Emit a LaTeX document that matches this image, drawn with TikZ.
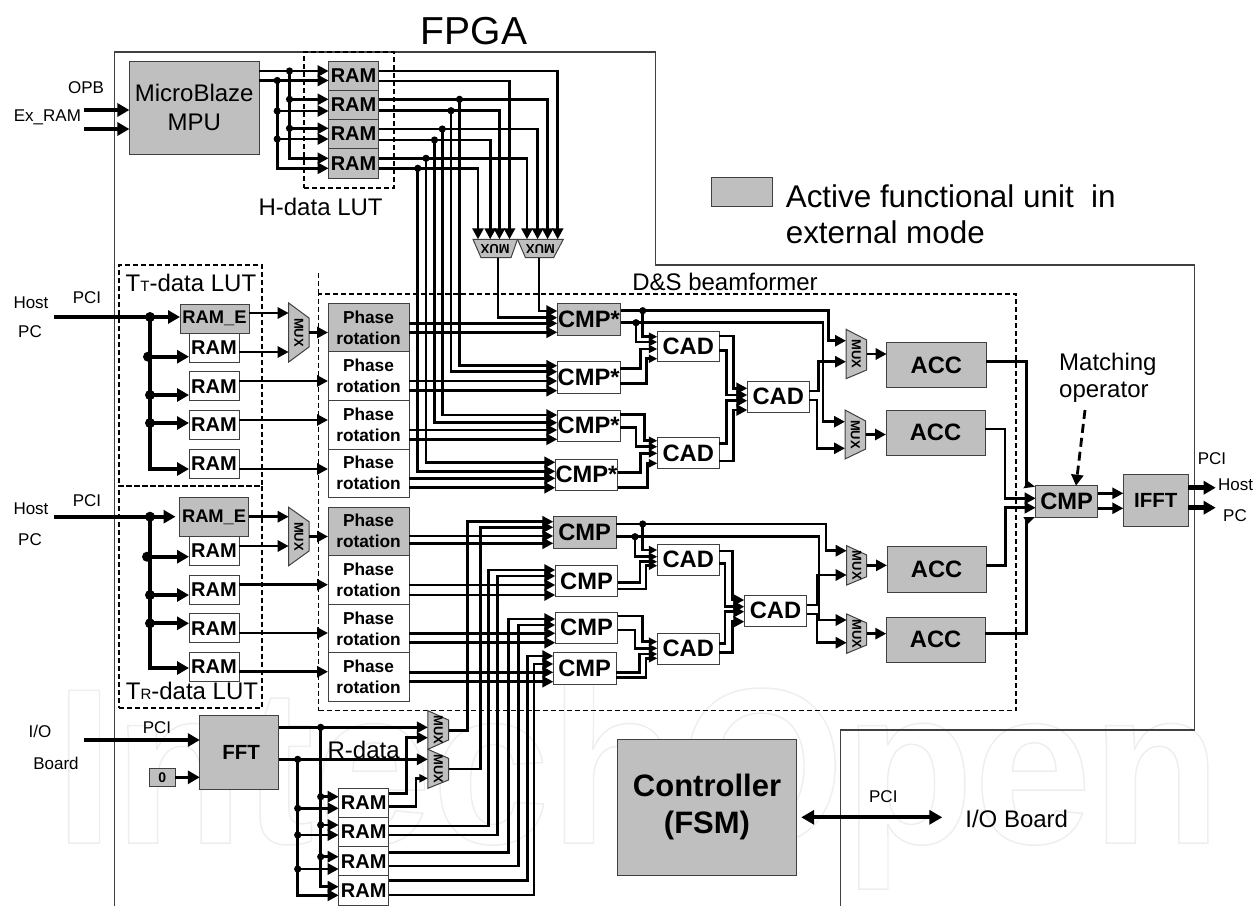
\documentclass[tikz,border=0pt]{standalone}
\usepackage{fontspec}
\setmainfont{Liberation Sans}
\usetikzlibrary{arrows.meta}
\definecolor{boxgray}{HTML}{BFBFBF}
\definecolor{boxline}{HTML}{404040}
\definecolor{wmark}{HTML}{EEEEEE}
\newcommand{\fs}[2]{\fontsize{#1}{#2}\selectfont}
\newcommand{\bx}[7][]{%
  \pgfmathsetmacro\bxw{#5-#3}\pgfmathsetmacro\bxh{#6-#4}%
  \pgfmathsetmacro\bxx{(#3+#5)/2}\pgfmathsetmacro\bxy{(#4+#6)/2}%
  \node[boxbase,#1,minimum width=\bxw pt,minimum height=\bxh pt] (#2) at (\bxx,\bxy) {#7};}
% vertical mux: name, x1, x2, left top, left bottom, right top, right bottom
\newcommand{\vmux}[7]{%
  \pgfmathsetmacro\mxx{(#2+#3)/2}\pgfmathsetmacro\mxy{(#4+#5)/2}%
  \draw[muxs] (#2,#4) -- (#3,#6) -- (#3,#7) -- (#2,#5) -- cycle;
  \node[muxt,rotate=-90] (#1) at (\mxx,\mxy) {MUX};
  \coordinate (#1-w) at (#2,\mxy);
  \coordinate (#1-e) at (#3,\mxy);}
% horizontal mux: name, top x1, top x2, bottom x1, bottom x2, y top, y bottom
\newcommand{\hmux}[7]{%
  \pgfmathsetmacro\mxx{(#2+#3)/2}\pgfmathsetmacro\mxy{(#6+#7)/2}%
  \draw[muxs] (#2,#6) -- (#3,#6) -- (#5,#7) -- (#4,#7) -- cycle;
  \node[muxt,rotate=180] (#1) at (\mxx,\mxy) {MUX};
  \coordinate (#1-n) at (\mxx,#6);
  \coordinate (#1-s) at (\mxx,#7);}
\newcommand{\dt}[1]{\fill #1 circle (3.6pt);}
\newcommand{\dtb}[1]{\fill #1 circle (5pt);}
\tikzset{
  boxbase/.style={draw=boxline,line width=1pt,inner sep=0pt,outer sep=0pt,align=center},
  gbox/.style={fill=boxgray},
  wbox/.style={fill=white},
  dbox/.style={draw=black,dash pattern=on 5pt off 3pt,line width=1.8pt,fill=none},
  muxs/.style={draw=boxline,line width=1pt,fill=boxgray},
  muxt/.style={font=\bfseries\fs{13}{13},inner sep=0pt},
  ln/.style={line width=2.8pt},
  ar/.style={ln,-{Triangle[length=11pt,width=11pt]}},
  ars/.style={ln,-{Triangle[length=8.5pt,width=8pt]}},
  thk/.style={line width=4.2pt},
  art/.style={thk,-{Triangle[length=12pt,width=13pt]}},
  lab/.style={inner sep=0pt,font=\fs{17}{17}},
  big/.style={inner sep=0pt,font=\fs{24}{29},align=center},
  ramt/.style={font=\bfseries\fs{20}{20}},
  cmpt/.style={font=\bfseries\fs{23.7}{24}},
  phat/.style={font=\bfseries\fs{17.3}{21}},
  outl/.style={draw=boxline,line width=1.2pt},
}
\begin{document}
\begin{tikzpicture}[x=1pt,y=-1pt]
\useasboundingbox (0,0) rectangle (1260,906);
% watermark
\node[anchor=base west,inner sep=0pt,text=wmark,xscale=.955,font=\bfseries\fs{222}{222}] (wm) at (54.6,843)
  {\special{pdf:code 1 Tr 1.5 w}IntechOpen\special{pdf:code 0 Tr}};
% FPGA outline
\coordinate (fa) at (114.5,906); \coordinate (fb) at (114.5,52); \coordinate (fc) at (655.5,52);
\coordinate (fd) at (655.5,265); \coordinate (fe) at (1194.5,265); \coordinate (ff) at (1194.5,730);
\coordinate (fg) at (840.7,730); \coordinate (fh) at (840.7,906);
\draw[outl] (fa) -- (fb) -- (fc) -- (fd) -- (fe) -- (ff) -- (fg) -- (fh);
\node[inner sep=0pt,font=\fs{39}{39}] (fpga) at (474,31) {FPGA};
% dashed groups
\bx[dbox]{hlut}{304}{52}{394}{187.7}{}
\bx[dbox]{tlut}{119}{265}{262}{486}{}
\bx[dbox]{rlut}{119}{486}{262}{708}{}
\bx[dbox]{ds}{318.5}{294}{1016}{710.5}{}
\coordinate (dsstub) at (318.5,273);
\draw[dbox] (dsstub) -- (ds.north west);
\node[big] (hlab) at (320.6,207) {H-data LUT};
\node[big] (tlab) at (191,283) {T{\fs{15}{15}T}-data LUT};
\node[big] (rlab) at (192,690.5) {T{\fs{15}{15}R}-data LUT};
\node[big] (dlab) at (725,281.5) {D\&S beamformer};
\node[big] (rdlab) at (363.6,750) {R-data};
% legend
\bx[gbox]{leg}{711.7}{177.3}{772.2}{206.7}{}
\node[anchor=west,inner sep=0pt,font=\fs{31.4}{31.4}] (lega) at (785.6,196) {Active functional unit\ \ in};
\node[anchor=west,inner sep=0pt,font=\fs{31.4}{31.4}] (legb) at (785.6,232) {external mode};
% MicroBlaze
\bx[gbox,font=\fs{24}{29}]{mb}{129.4}{61}{259}{154}{MicroBlaze\\MPU}
\node[lab] (opb) at (86,88) {OPB};
\node[lab] (exram) at (47.4,117) {Ex\_RAM};
\coordinate (exa) at (84,110); \coordinate (exb) at (84,129);
\draw[art] (exa) -- (mb.west|-exa);
\draw[art] (exb) -- (mb.west|-exb);
% H RAM
\bx[gbox,ramt]{hr1}{328.6}{61}{378.5}{90}{RAM}
\bx[gbox,ramt]{hr2}{328.6}{90}{378.5}{119.3}{RAM}
\bx[gbox,ramt]{hr3}{328.6}{119.3}{378.5}{148.7}{RAM}
\bx[gbox,ramt]{hr4}{328.6}{148.7}{378.5}{178.3}{RAM}
\hmux{hm1}{473}{517.5}{481}{511}{239.3}{257.7}
\hmux{hm2}{517.5}{563.3}{525.5}{553.6}{239.3}{257.7}
\coordinate (ha) at (289.5,71); \coordinate (hb) at (277.2,80.5);
\draw[ar] (mb.east|-ha) -- (hr1.west|-ha);
\draw[ar] (mb.east|-hb) -- (hr1.west|-hb);
\draw[ar] (ha) |- (hr2.west|-0,99.3);
\draw[ar] (ha) |- (hr3.west|-0,128.3);
\draw[ar] (ha) |- (hr4.west|-0,158.3);
\draw[ar] (hb) |- (hr2.west|-0,111);
\draw[ar] (hb) |- (hr3.west|-0,139);
\draw[ar] (hb) |- (hr4.west|-0,168.3);
\dt{(ha)} \dt{(hb)} \dt{(ha|-0,99.3)} \dt{(ha|-0,128.3)} \dt{(hb|-0,111)} \dt{(hb|-0,139)}
\draw[ar] (hr1.east|-0,71) -| (557.7,0|-hm2-n);
\draw[ar] (hr1.east|-0,81) -| (509.5,0|-hm1-n);
\draw[ar] (hr2.east|-0,99.3) -| (547.6,0|-hm2-n);
\draw[ar] (hr2.east|-0,110.7) -| (499.4,0|-hm1-n);
\draw[ar] (hr3.east|-0,129) -| (537.6,0|-hm2-n);
\draw[ar] (hr3.east|-0,140) -| (490.2,0|-hm1-n);
\draw[ar] (hr4.east|-0,158.3) -| (527,0|-hm2-n);
\draw[ar] (hr4.east|-0,168.3) -| (478,0|-hm1-n);
% T_T LUT
\bx[gbox,font=\bfseries\fs{18.3}{18.3}]{tre}{180}{304}{249}{333}{RAM\_E}
\bx[wbox,ramt]{tr1}{189}{333}{239}{362}{RAM}
\bx[wbox,ramt]{tr2}{189}{371.7}{239}{400.7}{RAM}
\bx[wbox,ramt]{tr3}{189}{410.7}{239}{439.5}{RAM}
\bx[wbox,ramt]{tr4}{189}{449.5}{239}{478}{RAM}
\vmux{tm}{288.7}{309}{303}{362}{318}{347}
\bx[gbox,phat]{pu1}{328}{303.5}{409}{351.7}{Phase\\rotation}
\bx[wbox,phat]{pu2}{328}{351.7}{409}{400}{Phase\\rotation}
\bx[wbox,phat]{pu3}{328}{400}{409}{449}{Phase\\rotation}
\bx[wbox,phat]{pu4}{328}{449}{409}{497}{Phase\\rotation}
\node[lab] (h1) at (31,303) {Host};
\node[lab] (p1) at (30,332) {PC};
\node[lab] (c1) at (87,298) {PCI};
\coordinate (thost) at (54,317); \coordinate (tbus) at (150,317);
\draw[art] (thost) -- (tre.west|-thost);
\draw[art] (tbus) |- (tr1.west|-0,356.7);
\draw[art] (tbus) |- (tr2.west|-0,395);
\draw[art] (tbus) |- (tr3.west|-0,423);
\draw[art] (tbus) |- (tr4.west|-0,469);
\dtb{(tbus)} \dtb{(148,356.7)} \dtb{(150,395)} \dtb{(150,423)}
\draw[ar] (tre.east|-0,313) -- (tm-w|-0,313);
\draw[ar] (tr1.east|-0,352) -- (tm-w|-0,352);
\draw[ar] (tm-e) -- (pu1.west|-tm-e);
\draw[ar] (tr2.east|-0,381) -- (pu2.west|-0,381);
\draw[ar] (tr3.east|-0,420) -- (pu3.west|-0,420);
\draw[ar] (tr4.east|-0,469) -- (pu4.west|-0,469);
% T_R LUT
\bx[gbox,font=\bfseries\fs{18.3}{18.3}]{lre}{179.5}{497.3}{248.7}{536.5}{RAM\_E}
\bx[wbox,ramt]{lr1}{189}{536.5}{239}{565.3}{RAM}
\bx[wbox,ramt]{lr2}{189}{575}{239}{604}{RAM}
\bx[wbox,ramt]{lr3}{189}{613.7}{239}{642.7}{RAM}
\bx[wbox,ramt]{lr4}{189}{652.7}{239}{681}{RAM}
\vmux{lm}{288.7}{309}{507.3}{565.7}{521.7}{551}
\bx[gbox,phat]{pl1}{328}{507.3}{409}{555.3}{Phase\\rotation}
\bx[wbox,phat]{pl2}{328}{555.3}{409}{604}{Phase\\rotation}
\bx[wbox,phat]{pl3}{328}{604}{409}{652.7}{Phase\\rotation}
\bx[wbox,phat]{pl4}{328}{652.7}{409}{701}{Phase\\rotation}
\node[lab] (h2) at (31,509) {Host};
\node[lab] (p2) at (30,540) {PC};
\node[lab] (c2) at (87,501) {PCI};
\coordinate (lhost) at (54,516.7); \coordinate (lbus) at (150,516.7);
\draw[art,shorten >=4pt] (lhost) -- (lre.west|-lhost);
\draw[art] (lbus) |- (lr1.west|-0,556.7);
\draw[art] (lbus) |- (lr2.west|-0,595);
\draw[art] (lbus) |- (lr3.west|-0,623.3);
\draw[art] (lbus) |- (lr4.west|-0,668);
\dtb{(lbus)} \dtb{(147,556.7)} \dtb{(150,595)} \dtb{(150,623.3)}
\draw[ar] (lre.east|-0,516.7) -- (lm-w|-0,516.7);
\draw[ar] (lr1.east|-0,546) -- (lm-w|-0,546);
\draw[ar] (lm-e) -- (pl1.west|-lm-e);
\draw[ar] (lr2.east|-0,584.7) -- (pl2.west|-0,584.7);
\draw[ar] (lr3.east|-0,633) -- (pl3.west|-0,633);
\draw[ar] (lr4.east|-0,671.7) -- (pl4.west|-0,671.7);
% upper CMP* column
\bx[gbox,cmpt]{cu1}{557.3}{303.3}{620.7}{335}{CMP*}
\bx[wbox,cmpt]{cu2}{557.3}{361.7}{620}{393.3}{CMP*}
\bx[wbox,cmpt]{cu3}{557.3}{410}{620}{441.3}{CMP*}
\bx[wbox,cmpt]{cu4}{555.3}{459}{617.7}{490}{CMP*}
\draw[ar] (539,0|-hm2-s) |- (cu1.west|-0,311);
\draw[ar] (498,0|-hm1-s) |- (cu1.west|-0,317.7);
\coordinate (va) at (459.5,99.3); \coordinate (vb) at (451,110.7); \coordinate (vc) at (442.3,129);
\coordinate (vd) at (434.5,140); \coordinate (ve) at (426,158.3); \coordinate (vf) at (417.8,168.3);
\draw[ar] (va) |- (cu2.west|-0,365.7);
\draw[ar] (vb) |- (cu2.west|-0,371.7);
\draw[ar] (vc) |- (cu3.west|-0,415);
\draw[ar] (vd) |- (cu3.west|-0,422.7);
\draw[ar] (ve) |- (cu4.west|-0,462.3);
\draw[ar] (vf) |- (cu4.west|-0,471.3);
\dt{(va)} \dt{(vb)} \dt{(vc)} \dt{(vd)} \dt{(ve)} \dt{(vf)}
\draw[ar] (pu1.east|-0,323.3) -- (cu1.west|-0,323.3);
\draw[ar] (pu1.east|-0,332.3) -- (cu1.west|-0,332.3);
\draw[ar] (pu2.east|-0,381) -- (cu2.west|-0,381);
\draw[ar] (pu2.east|-0,390.7) -- (cu2.west|-0,390.7);
\draw[ar] (pu3.east|-0,430) -- (cu3.west|-0,430);
\draw[ar] (pu3.east|-0,439.3) -- (cu3.west|-0,439.3);
\draw[ar] (pu4.east|-0,478.3) -- (cu4.west|-0,478.3);
\draw[ar] (pu4.east|-0,487.7) -- (cu4.west|-0,487.7);
% upper CAD tree
\bx[wbox,cmpt]{ca1}{657.3}{331}{719.3}{361.7}{CAD}
\bx[wbox,cmpt]{ca2}{657.3}{437.7}{719.3}{468.3}{CAD}
\bx[wbox,cmpt]{ca3}{747.3}{381}{809.3}{412.3}{CAD}
\coordinate (ua) at (642.7,310.7); \coordinate (ub) at (636,322.7);
\draw[ars] (ua) |- (ca1.west|-0,336.7);
\draw[ars] (ub) |- (ca1.west|-0,342);
\dt{(ua)} \dt{(ub)}
\draw[ars] (cu2.east|-0,368.3) -| (640.7,349) -- (ca1.west|-0,349);
\draw[ars] (cu2.east|-0,383.3) -| (646.7,358.7) -- (ca1.west|-0,358.7);
\draw[ars] (cu3.east|-0,414.3) -| (644.3,440.7) -- (ca2.west|-0,440.7);
\draw[ars] (cu3.east|-0,427.7) -| (636,446.7) -- (ca2.west|-0,446.7);
\draw[ars] (cu4.east|-0,472.7) -| (640.7,453.3) -- (ca2.west|-0,453.3);
\draw[ars] (cu4.east|-0,487.7) -| (647.3,463.3) -- (ca2.west|-0,463.3);
\draw[ar] (ca1.east|-0,336) -| (733.3,388.3) -- (ca3.west|-0,388.3);
\draw[ar] (ca1.east|-0,350.7) -| (726.7,395) -- (ca3.west|-0,395);
\draw[ar] (ca2.east|-0,443.3) -| (726.7,400.7) -- (ca3.west|-0,400.7);
\draw[ar] (ca2.east|-0,461) -| (733.3,410) -- (ca3.west|-0,410);
% upper MUX and ACC
\vmux{ma}{846}{866.7}{329.3}{378.7}{340}{370}
\vmux{mb2}{845}{865.7}{410}{459}{421}{449}
\bx[gbox,cmpt]{acca}{886.7}{342.7}{986}{387.7}{ACC}
\bx[gbox,cmpt]{accb}{886}{410}{985}{455}{ACC}
\draw[ar] (cu1.east|-ua) -| (828.3,340.7) -- (ma-w|-0,340.7);
\draw[ar] (cu1.east|-ub) -| (823,421.7) -- (mb2-w|-0,421.7);
\draw[ar] (ca3.east|-0,391) -| (818.3,361.7) -- (ma-w|-0,361.7);
\draw[ar] (ca3.east|-0,400) -| (817,448.3) -- (mb2-w|-0,448.3);
\draw[ar] (ma-e) -- (acca.west|-ma-e);
\draw[ar] (mb2-e) -- (accb.west|-mb2-e);
% lower CMP column
\bx[gbox,cmpt]{cl1}{553.3}{516.7}{616}{548.3}{CMP}
\bx[wbox,cmpt]{cl2}{555.3}{565.7}{617.7}{596.7}{CMP}
\bx[wbox,cmpt]{cl3}{555.3}{612.3}{617.7}{643.3}{CMP}
\bx[wbox,cmpt]{cl4}{553.3}{652.7}{616}{684}{CMP}
\draw[ar] (pl1.east|-0,536) -- (cl1.west|-0,536);
\draw[ar] (pl1.east|-0,543.3) -- (cl1.west|-0,543.3);
\draw[ar] (pl2.east|-0,585) -- (cl2.west|-0,585);
\draw[ar] (pl2.east|-0,595) -- (cl2.west|-0,595);
\draw[ar] (pl3.east|-0,633.3) -- (cl3.west|-0,633.3);
\draw[ar] (pl3.east|-0,642.7) -- (cl3.west|-0,642.7);
\draw[ar] (pl4.east|-0,672.3) -- (cl4.west|-0,672.3);
\draw[ar] (pl4.east|-0,681.7) -- (cl4.west|-0,681.7);
% lower CAD tree
\bx[wbox,cmpt]{cb1}{657.3}{544}{719.3}{575}{CAD}
\bx[wbox,cmpt]{cb2}{657.3}{633.3}{719.3}{664}{CAD}
\bx[wbox,cmpt]{cb3}{744.3}{595}{806.7}{626}{CAD}
\coordinate (la) at (642.7,524); \coordinate (lb) at (635,536.7);
\draw[ars] (la) |- (cb1.west|-0,550);
\draw[ars] (lb) |- (cb1.west|-0,556.7);
\dt{(la)} \dt{(lb)}
\draw[ars] (cl2.east|-0,582.3) -| (640,561.7) -- (cb1.west|-0,561.7);
\draw[ars] (cl2.east|-0,589) -| (646,565.7) -- (cb1.west|-0,565.7);
\draw[ars] (cl3.east|-0,616) -| (642.7,641.7) -- (cb2.west|-0,641.7);
\draw[ars] (cl3.east|-0,630) -| (635,648.3) -- (cb2.west|-0,648.3);
\draw[ars] (cl4.east|-0,672.7) -| (639.3,654) -- (cb2.west|-0,654);
\draw[ars] (cl4.east|-0,677.7) -| (646,658.3) -- (cb2.west|-0,658.3);
\draw[ar] (cb1.east|-0,551) -| (732.3,600) -- (cb3.west|-0,600);
\draw[ar] (cb1.east|-0,563.3) -| (725,606.7) -- (cb3.west|-0,606.7);
\draw[ar] (cb2.east|-0,643.3) -| (725,611.7) -- (cb3.west|-0,611.7);
\draw[ar] (cb2.east|-0,652.3) -| (732.3,621.7) -- (cb3.west|-0,621.7);
% lower MUX and ACC
\vmux{mc}{846.7}{866.7}{545.7}{585}{555}{576.7}
\vmux{md}{846.7}{866.7}{614}{653.3}{623}{645}
\bx[gbox,cmpt]{accc}{887}{546.7}{986.3}{592.3}{ACC}
\bx[gbox,cmpt]{accd}{886.3}{617.3}{985}{662}{ACC}
\draw[ar] (cl1.east|-la) -| (826,550.7) -- (mc-w|-0,550.7);
\draw[ar] (cl1.east|-lb) -| (819,620) -- (md-w|-0,620);
\draw[ar] (cb3.east|-0,605) -| (817.5,575) -- (mc-w|-0,575);
\draw[ar] (cb3.east|-0,614) -| (817,642.7) -- (md-w|-0,642.7);
\draw[ar] (mc-e) -- (accc.west|-mc-e);
\draw[ar] (md-e) -- (accd.west|-md-e);
% final stage
\bx[gbox,cmpt]{cmpf}{1035.7}{485.7}{1097.7}{517.3}{CMP}
\bx[gbox,font=\bfseries\fs{20.5}{20.5}]{ifft}{1123.3}{474.3}{1188.3}{526.7}{IFFT}
\draw[thk,line width=3.4pt] (acca.east|-0,361.7) -| (1026.7,0|-cmpf.north west);
\draw[thk,line width=3.4pt] (accd.east|-0,633.3) -| (1026.7,0|-cmpf.south west);
\fill (1027.7,481) -- (1035,486.7) -- (1023.3,488.3) -- cycle;
\fill (1027.7,524) -- (1035,517) -- (1023.3,517) -- cycle;
\draw[ar] (accb.east|-0,429) -| (1005,498.3) -- (cmpf.west|-0,498.3);
\draw[ar] (accc.east|-0,565.7) -| (1005.7,507.7) -- (cmpf.west|-0,507.7);
\draw[ar] (cmpf.east|-0,493.3) -- (ifft.west|-0,493.3);
\draw[ar] (cmpf.east|-0,508.3) -- (ifft.west|-0,508.3);
\coordinate (oa) at (1215.7,487.7); \coordinate (ob) at (1215.7,507.7);
\draw[art,line width=5pt] (ifft.east|-oa) -- (oa);
\draw[art,line width=5pt] (ifft.east|-ob) -- (ob);
\node[lab] (pcio) at (1212,459) {PCI};
\node[lab,anchor=west] (hosto) at (1218,485) {Host};
\node[lab] (pco) at (1235,515.7) {PC};
\node[inner sep=0pt,anchor=west,font=\fs{24}{24}] (mt1) at (1059,364) {Matching};
\node[inner sep=0pt,anchor=west,font=\fs{24}{24}] (mt2) at (1059,392.7) {operator};
\coordinate (ms) at (1085,410);
\draw[line width=2.8pt,dash pattern=on 9pt off 5pt,-{Triangle[length=11pt,width=12pt]}] (ms) -- (cmpf.north-|1076,0) ;
% FFT
\bx[gbox,font=\bfseries\fs{20.5}{20.5}]{fft}{199.8}{715}{278.6}{789.3}{\hspace*{4pt}FFT}
\bx[gbox,font=\bfseries\rmfamily\fs{14}{14}]{zero}{149.3}{768.3}{175}{786.7}{0}
\node[lab] (io) at (40,731.7) {I/O};
\node[lab] (brd) at (56,763) {Board};
\node[lab] (pcif) at (157,728) {PCI};
\coordinate (fin) at (84,740);
\draw[art] (fin) -- (fft.west|-fin);
\draw[art,line width=3.6pt] (zero.east|-0,777.3) -- (fft.west|-0,777.3);
\vmux{mr}{427.9}{448.5}{710.7}{749.3}{720}{740}
\vmux{ms2}{427.9}{448.5}{749.3}{788.3}{758.3}{780}
\bx[wbox,ramt]{rr1}{338.7}{788.3}{388.8}{817.3}{RAM}
\bx[wbox,ramt]{rr2}{338.7}{817.3}{388.8}{846.7}{RAM}
\bx[wbox,ramt]{rr3}{338.7}{846.7}{388.8}{875.7}{RAM}
\bx[wbox,ramt]{rr4}{338.7}{875.7}{388.8}{905}{RAM}
\draw[ar] (fft.east|-0,727.3) -- (mr-w|-0,727.3);
\draw[ar] (fft.east|-0,759.3) -- (ms2-w|-0,759.3);
\coordinate (ra) at (320.7,727.3); \coordinate (rb) at (297.7,759.3);
\draw[ar] (ra) |- (rr1.west|-0,796.7);
\draw[ar] (ra) |- (rr2.west|-0,825);
\draw[ar] (ra) |- (rr3.west|-0,856.7);
\draw[ar] (ra) |- (rr4.west|-0,886.7);
\draw[ar] (rb) |- (rr1.west|-0,808.3);
\draw[ar] (rb) |- (rr2.west|-0,835);
\draw[ar] (rb) |- (rr3.west|-0,869);
\draw[ar] (rb) |- (rr4.west|-0,895.3);
\dt{(ra)} \dt{(rb)} \dt{(ra|-0,796.7)} \dt{(ra|-0,825)} \dt{(ra|-0,856.7)} \dt{(rb|-0,808.3)} \dt{(rb|-0,835)} \dt{(rb|-0,869)}
\draw[ar] (rr1.east|-0,793.3) -| (406.8,737.7) -- (mr-w|-0,737.7);
\draw[ars] (rr1.east|-0,806.7) -| (416,778.3) -- (ms2-w|-0,778.3);
\draw[ar] (mr-e|-0,730.7) -| (467.7,521.7) -- (cl1.west|-0,521.7);
\draw[ar] (ms2-e|-0,769) -| (480.3,527.3) -- (cl1.west|-0,527.3);
\draw[ar] (rr2.east|-0,826) -| (488.3,570) -- (cl2.west|-0,570);
\draw[ar] (rr2.east|-0,835) -| (497.5,576) -- (cl2.west|-0,576);
\draw[ar] (rr3.east|-0,852.3) -| (508.6,619) -- (cl3.west|-0,619);
\draw[ar] (rr3.east|-0,866) -| (518.6,625) -- (cl3.west|-0,625);
\draw[ar] (rr4.east|-0,880.7) -| (527.4,656) -- (cl4.west|-0,656);
\draw[ar] (rr4.east|-0,895) -| (534,664) -- (cl4.west|-0,664);
% controller
\bx[gbox,font=\bfseries\fs{31}{37}]{fsm}{617.3}{739.3}{796.7}{875}{Controller\\(FSM)}
\coordinate (iop) at (942.3,817.3);
\draw[line width=4pt,{Triangle[length=13pt,width=14pt]}-{Triangle[length=13pt,width=14pt]}] (fsm.east|-iop) ++(4.5,0) -- (iop);
\node[lab] (pcic) at (883.3,796.7) {PCI};
\node[inner sep=0pt,font=\fs{24}{24}] (iob) at (1016.7,819.3) {I/O Board};
\end{tikzpicture}
\end{document}
